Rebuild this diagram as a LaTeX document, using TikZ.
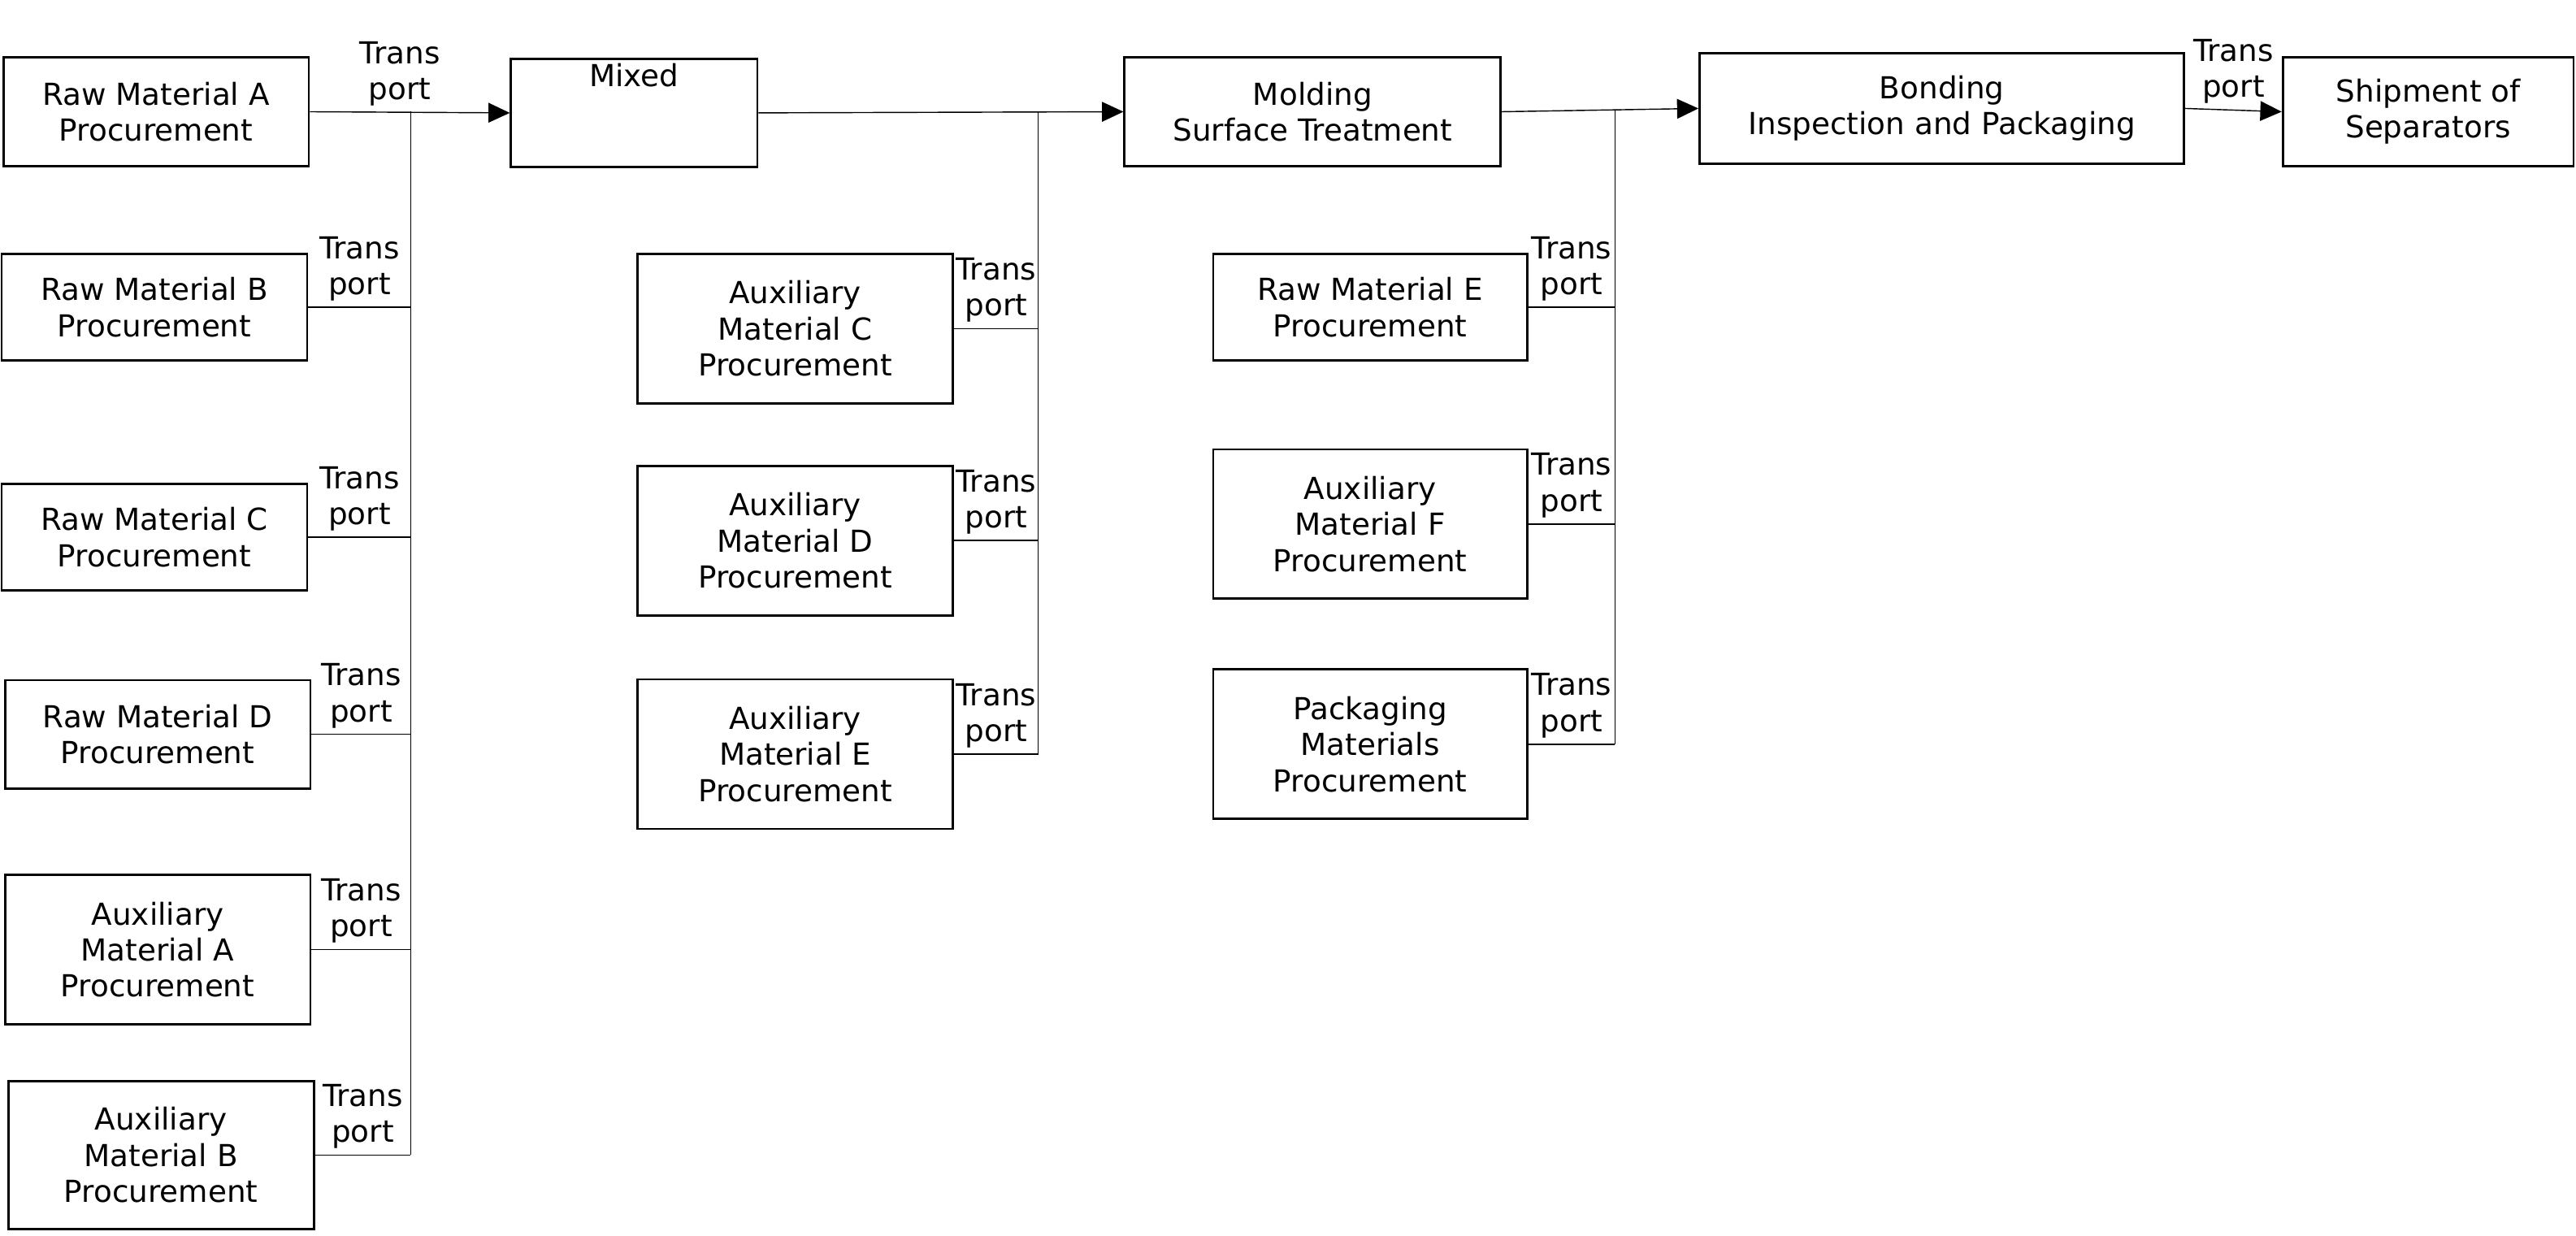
\documentclass[tikz,border=0pt]{standalone}
\usepackage{fontspec}
\setmainfont{DejaVu Sans}
\usetikzlibrary{positioning,calc,arrows.meta}
\tikzset{
    procbox/.style={draw, thick, align=center, inner sep=0pt, font=\fontsize{10.5}{12.5}\selectfont},
    feedline/.style={draw, thin},
    flowarrow/.style={draw, thin, -{Triangle[length=2.6mm,width=2.4mm]}},
    translabel/.style={align=center, inner sep=0pt, font=\fontsize{10.5}{12.5}\selectfont}
}
\begin{document}
\begin{tikzpicture}[x=0.02cm,y=-0.02cm]
    \useasboundingbox (0,0) rectangle (1568,752);
    % main line
    \node[procbox, minimum width=3.72cm, minimum height=1.32cm] (rawA) at (95,68) {Raw Material A\\Procurement};
    \node[procbox, minimum width=3cm, minimum height=1.32cm, anchor=north] (mixed) at (386,35) {\\[-6pt]Mixed\\[12pt]};
    \node[procbox, minimum width=4.58cm, minimum height=1.32cm] (molding) at (799,68) {Molding\\Surface Treatment};
    \node[procbox, minimum width=5.9cm, minimum height=1.34cm] (bonding) at (1182,66) {Bonding\\Inspection and Packaging};
    \node[procbox, minimum width=3.54cm, minimum height=1.32cm] (ship) at (1478,68) {Shipment of\\Separators};
    % first group
    \node[procbox, minimum width=3.72cm, minimum height=1.3cm] (rawB) at (94,187) {Raw Material B\\Procurement};
    \node[procbox, minimum width=3.72cm, minimum height=1.3cm] (rawC) at (94,327) {Raw Material C\\Procurement};
    \node[procbox, minimum width=3.72cm, minimum height=1.32cm] (rawD) at (96,447) {Raw Material D\\Procurement};
    \node[procbox, minimum width=3.72cm, minimum height=1.82cm] (auxA) at (96,578) {Auxiliary\\Material A\\Procurement};
    \node[procbox, minimum width=3.72cm, minimum height=1.8cm] (auxB) at (98,703) {Auxiliary\\Material B\\Procurement};
    % second group
    \node[procbox, minimum width=3.84cm, minimum height=1.82cm] (auxC) at (484,200) {Auxiliary\\Material C\\Procurement};
    \node[procbox, minimum width=3.84cm, minimum height=1.82cm] (auxD) at (484,329) {Auxiliary\\Material D\\Procurement};
    \node[procbox, minimum width=3.84cm, minimum height=1.82cm] (auxE) at (484,459) {Auxiliary\\Material E\\Procurement};
    % third group
    \node[procbox, minimum width=3.82cm, minimum height=1.3cm] (rawE) at (834,187) {Raw Material E\\Procurement};
    \node[procbox, minimum width=3.82cm, minimum height=1.82cm] (auxF) at (834,319) {Auxiliary\\Material F\\Procurement};
    \node[procbox, minimum width=3.82cm, minimum height=1.82cm] (pack) at (834,453) {Packaging\\Materials\\Procurement};
    % bus joints
    \coordinate (busA) at (250,68);
    \coordinate (busB) at (632,68);
    \coordinate (busC) at (983,67);
    % feeders into the buses
    \foreach \src in {rawB,rawC,rawD,auxA,auxB} {
        \draw[feedline] (\src.east) -- (\src.east -| busA);
        \node[translabel, above=2pt] at ($(\src.east)!0.5!(\src.east -| busA)$) {Trans\\port};
    }
    \draw[feedline] (busA) -- (auxB.east -| busA);
    \foreach \src in {auxC,auxD,auxE} {
        \draw[feedline] (\src.east) -- (\src.east -| busB);
        \node[translabel, above=2pt] at ($(\src.east)!0.5!(\src.east -| busB)$) {Trans\\port};
    }
    \draw[feedline] (busB) -- (auxE.east -| busB);
    \foreach \src in {rawE,auxF,pack} {
        \draw[feedline] (\src.east) -- (\src.east -| busC);
        \node[translabel, above=2pt] at ($(\src.east)!0.5!(\src.east -| busC)$) {Trans\\port};
    }
    \draw[feedline] (busC) -- (pack.east -| busC);
    % main flow
    \draw[flowarrow] (rawA.east) -- (mixed.west);
    \node[translabel, above=2pt] at ($(rawA.east)!0.45!(mixed.west)$) {Trans\\port};
    \draw[flowarrow] (mixed.east) -- (molding.west);
    \draw[flowarrow] (molding.east) -- (bonding.west);
    \draw[flowarrow] (bonding.east) -- (ship.west);
    \node[translabel, above=2pt] at ($(bonding.east)!0.5!(ship.west)$) {Trans\\port};
\end{tikzpicture}
\end{document}
